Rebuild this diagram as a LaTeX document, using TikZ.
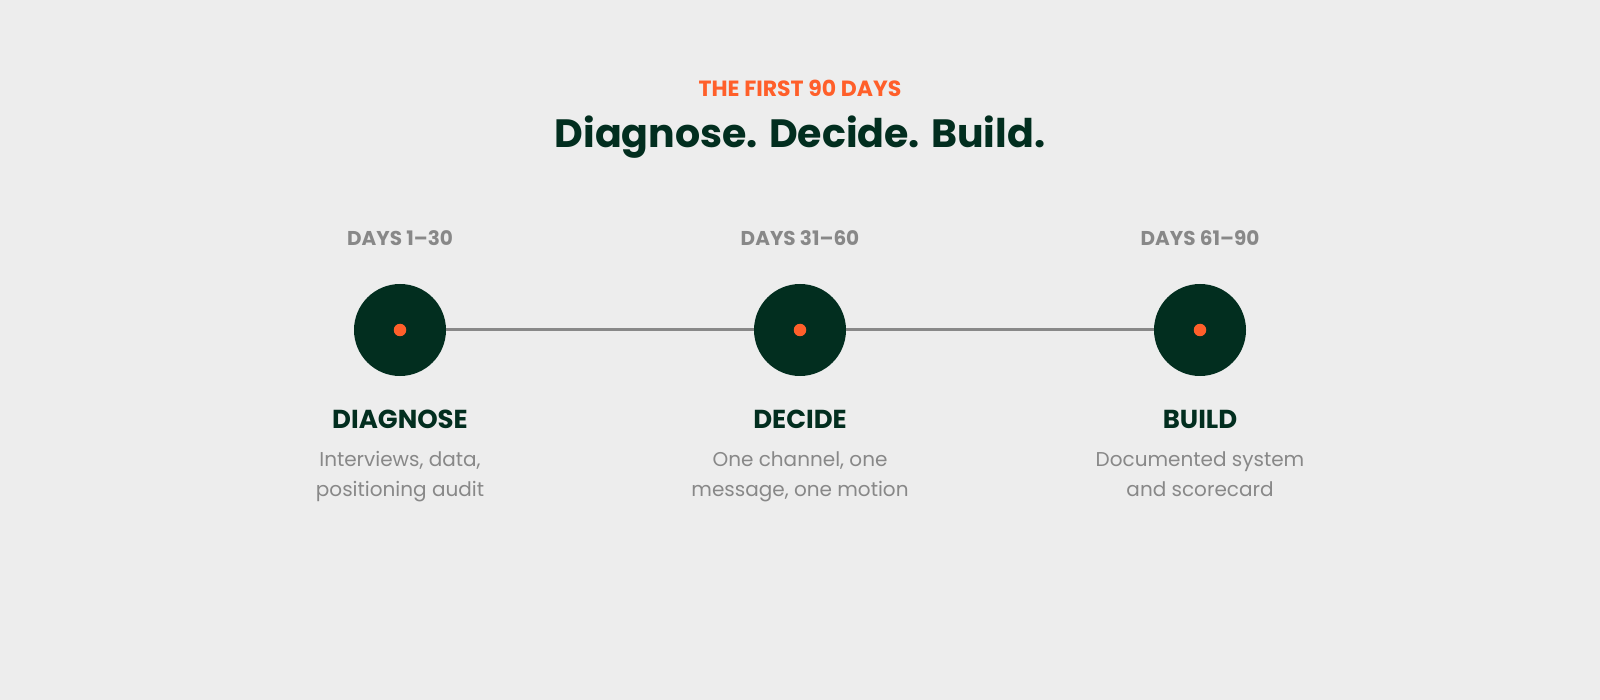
\documentclass[tikz,border=0pt]{standalone}
\usepackage{fontspec}
\setmainfont{Poppins}
\usetikzlibrary{positioning}
\definecolor{bgcol}{HTML}{EDEDED}
\definecolor{pine}{HTML}{022E1F}
\definecolor{ember}{HTML}{FF5F2A}
\definecolor{slate}{HTML}{888888}
\tikzset{
	phase/.style={circle, fill=pine, draw=none, minimum size=92pt, inner sep=0pt},
	dot/.style={circle, fill=ember, draw=none, minimum size=12.5pt, inner sep=0pt},
	days/.style={anchor=base, text=slate, font=\fontsize{20pt}{24pt}\selectfont\bfseries},
	stage/.style={anchor=base, text=pine, font=\fontsize{26pt}{30pt}\selectfont\bfseries},
	note/.style={anchor=base, text=slate, align=center, font=\fontsize{20pt}{30pt}\selectfont}
}
\begin{document}
\begin{tikzpicture}[x=1pt, y=-1pt]
				\fill[bgcol] (0,0) rectangle (1600,700);
				\useasboundingbox (0,0) rectangle (1600,700);

				\node (kicker) [anchor=base, text=ember, font=\fontsize{22pt}{26pt}\selectfont\bfseries] at (800,97) {THE FIRST 90 DAYS};
				\node (title) [anchor=base, text=pine, font=\fontsize{39.5pt}{46pt}\selectfont\bfseries] at (800,148) {Diagnose. Decide. Build.};

				\foreach \n/\x in {1/400, 2/800, 3/1200}
				\node (c\n) [phase] at (\x,330) {};

				\draw[slate, line width=3pt] (c1) -- (c2);
				\draw[slate, line width=3pt] (c2) -- (c3);

				\foreach \n in {1,2,3}
				\node (d\n) [dot] at (c\n) {};

				\node (t1) [days] at (400,246) {DAYS 1–30};
				\node (t2) [days] at (800,246) {DAYS 31–60};
				\node (t3) [days] at (1200,246) {DAYS 61–90};

				\node (s1) [stage] at (400,428) {DIAGNOSE};
				\node (s2) [stage] at (800,428) {DECIDE};
				\node (s3) [stage] at (1200,428) {BUILD};

				\node (n1) [note] at (400,496) {Interviews, data,\\positioning audit};
				\node (n2) [note] at (800,496) {One channel, one\\message, one motion};
				\node (n3) [note] at (1200,496) {Documented system\\and scorecard};
\end{tikzpicture}
\end{document}
